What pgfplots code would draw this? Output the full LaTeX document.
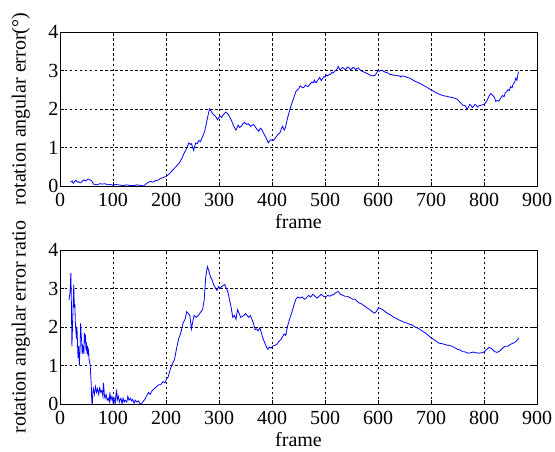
\documentclass[border=0pt]{standalone}
\usepackage{fontspec}
\setmainfont{Liberation Serif}
\usepackage{pgfplots}
\pgfplotsset{compat=1.18}
\pgfplotsset{
  matlab/.style={
    scale only axis, width=477pt, height=154pt,
    xmin=0, xmax=900, ymin=0, ymax=4,
    xtick={0,100,...,900}, ytick={0,1,2,3,4},
    grid=major,
    major grid style={black, line width=0.6pt, dash pattern=on 2.5pt off 2.5pt},
    axis line style={black, line width=0.8pt},
    tick align=inside, major tick length=4pt,
    tick style={black, line width=0.6pt},
    /pgf/number format/assume math mode=true,
    tick label style={font=\fontsize{20}{24}\selectfont},
    yticklabel style={inner sep=1.5pt},
    xticklabel style={inner sep=2pt, yshift=-5pt},
    label style={font=\fontsize{20}{24}\selectfont},
    xlabel style={at={(axis description cs:0.5,-0.273)}, anchor=base},
    ylabel style={at={(axis description cs:-0.072,0.5)}, anchor=base, rotate=0},
    xlabel={frame},
  }
}
\begin{document}
\begin{tikzpicture}
\useasboundingbox (0,0) rectangle (555pt,-452pt);
\begin{axis}[matlab, at={(60pt,-186pt)}, anchor=south west, ylabel={rotation angular error(°)}]
\addplot[blue, line width=0.8pt] coordinates {
(20,0.1) (23,0.13) (25,0.07) (28,0.12) (30,0.15) (33,0.1) (35,0.11) (38,0.08) (40,0.09) (43,0.14) (45,0.16) (48,0.13) (50,0.15) (53,0.18) (55,0.17) (58,0.15) (60,0.13) (63,0.05) (67,0.04) (70,0.03) (75,0.06) (80,0.05) (85,0.06) (90,0.03) (95,0.04) (100,0.02) (105,0.04) (110,0.03) (115,0.02) (120,0.01) (125,0.03) (130,0.02) (135,0.01) (140,0.01) (145,0.03) (150,0.02) (158,0.0) (162,0.05) (165,0.08) (170,0.12) (175,0.1) (180,0.14) (185,0.15) (190,0.2) (195,0.22) (200,0.25) (205,0.3) (210,0.37) (215,0.45) (220,0.52) (225,0.6) (230,0.72) (234,0.85) (238,0.95) (243,1.12) (246,1.08) (248,1.1) (252,0.93) (256,1.12) (259,1.1) (262,1.18) (265,1.15) (268,1.25) (273,1.42) (278,1.75) (282,2.0) (285,1.95) (287,1.9) (290,1.85) (292,1.83) (295,1.78) (297,1.72) (300,1.78) (302,1.82) (305,1.78) (308,1.85) (313,1.92) (316,1.88) (318,1.85) (323,1.72) (326,1.62) (328,1.55) (332,1.45) (336,1.58) (339,1.52) (342,1.55) (345,1.62) (348,1.65) (352,1.6) (355,1.62) (360,1.55) (365,1.6) (368,1.55) (370,1.5) (375,1.42) (378,1.5) (380,1.48) (385,1.35) (390,1.22) (393,1.12) (396,1.18) (398,1.2) (402,1.18) (405,1.22) (410,1.32) (415,1.38) (418,1.5) (420,1.55) (423,1.45) (425,1.5) (430,1.8) (435,2.05) (440,2.25) (445,2.45) (448,2.5) (450,2.52) (453,2.6) (455,2.58) (458,2.55) (460,2.56) (463,2.62) (465,2.6) (468,2.58) (470,2.62) (473,2.66) (475,2.7) (478,2.68) (480,2.75) (483,2.68) (485,2.72) (488,2.78) (490,2.82) (493,2.74) (495,2.78) (498,2.84) (500,2.83) (503,2.88) (505,2.86) (508,2.9) (510,2.9) (513,2.95) (515,2.93) (518,2.98) (520,3.0) (523,3.04) (525,3.1) (528,3.02) (530,3.04) (533,3.08) (535,3.06) (538,3.02) (540,3.05) (543,3.09) (545,3.08) (548,3.02) (550,3.04) (553,3.08) (555,3.07) (558,3.02) (560,3.05) (563,3.07) (565,3.03) (570,2.98) (575,2.95) (580,2.92) (585,2.88) (590,2.86) (595,2.88) (600,3.0) (603,2.98) (605,3.0) (608,3.01) (610,2.98) (615,2.95) (620,2.93) (623,2.89) (625,2.9) (628,2.88) (630,2.88) (635,2.87) (640,2.86) (643,2.83) (645,2.86) (650,2.85) (655,2.82) (660,2.8) (665,2.76) (670,2.72) (675,2.69) (680,2.66) (685,2.62) (690,2.58) (695,2.54) (700,2.5) (705,2.46) (710,2.42) (715,2.39) (720,2.36) (725,2.34) (730,2.33) (735,2.31) (740,2.3) (745,2.28) (750,2.25) (755,2.17) (760,2.1) (765,2.08) (768,2.0) (770,2.03) (773,2.12) (775,2.1) (778,2.04) (780,2.07) (783,2.12) (785,2.1) (788,2.05) (790,2.08) (795,2.1) (800,2.12) (805,2.2) (810,2.35) (813,2.4) (815,2.38) (818,2.33) (820,2.3) (822,2.2) (825,2.22) (828,2.2) (830,2.25) (835,2.35) (838,2.32) (840,2.42) (843,2.45) (845,2.5) (848,2.48) (850,2.58) (853,2.55) (855,2.65) (858,2.7) (860,2.8) (862,2.75) (865,2.97)
};
\end{axis}
\begin{axis}[matlab, at={(60pt,-404pt)}, anchor=south west, ylabel={rotation angular error ratio}]
\addplot[blue, line width=0.8pt] coordinates {
(17,2.7) (19,2.9) (20.5,3.4) (21.5,2.6) (22.5,1.5) (24,2.2) (26,3.1) (27,2.5) (28,2.6) (29,2.1) (31,1.7) (32,2.0) (34,1.2) (35,1.5) (36.5,1.0) (38,1.5) (39,2.1) (40,1.8) (41,1.6) (42,1.3) (43,1.5) (44,1.45) (45,1.3) (46,1.85) (47,1.6) (48,1.8) (49,1.4) (50,1.6) (51,1.3) (52,1.5) (53,1.25) (54,1.35) (55,1.15) (57,1.0) (59,0.5) (60,0.05) (61,0.0) (62,0.3) (63,0.4) (65,0.25) (67,0.45) (69,0.3) (71,0.4) (73,0.25) (75,0.42) (77,0.3) (79,0.35) (81,0.2) (82,0.55) (84,0.2) (85,0.15) (87,0.25) (89,0.1) (91,0.15) (93,0.05) (94,0.3) (96,0.1) (98,0.2) (100,0.05) (102,0.15) (104,0.0) (106,0.3) (107,0.35) (108,0.1) (110,0.2) (112,0.05) (113,0.1) (115,0.15) (117,0.0) (119,0.15) (121,0.05) (123,0.1) (126,0.05) (128,0.2) (130,0.1) (133,0.15) (135,0.08) (137,0.12) (140,0.02) (142,0.1) (145,0.05) (148,0.08) (150,0.02) (153,0.0) (156,0.05) (160,0.12) (163,0.2) (167,0.3) (170,0.25) (174,0.35) (178,0.4) (182,0.45) (186,0.5) (190,0.5) (194,0.58) (198,0.55) (201,0.65) (204,0.7) (208,0.9) (212,1.05) (216,1.15) (220,1.45) (224,1.7) (228,1.85) (232,2.1) (236,2.2) (239,2.4) (242,2.35) (245,2.3) (248,1.95) (250,2.1) (253,2.3) (257,2.25) (261,2.3) (265,2.38) (269,2.45) (272,2.7) (275,3.3) (278,3.57) (281,3.45) (284,3.3) (287,3.22) (290,3.1) (293,3.02) (296,2.95) (299,3.05) (302,3.0) (305,3.05) (308,3.08) (311,3.1) (314,3.0) (317,2.9) (320,2.7) (323,2.5) (326,2.25) (329,2.3) (332,2.2) (335,2.45) (338,2.35) (341,2.25) (344,2.28) (347,2.3) (350,2.35) (353,2.3) (356,2.25) (359,2.3) (362,2.2) (365,2.1) (368,1.93) (371,1.95) (374,1.9) (377,1.98) (380,1.85) (383,1.7) (386,1.6) (389,1.5) (392,1.42) (395,1.48) (398,1.45) (401,1.5) (405,1.52) (409,1.55) (413,1.62) (417,1.68) (420,1.75) (423,1.82) (426,1.78) (429,2.0) (433,2.2) (437,2.36) (441,2.55) (445,2.72) (449,2.78) (453,2.75) (457,2.78) (461,2.72) (465,2.76) (469,2.82) (473,2.78) (477,2.85) (481,2.8) (485,2.75) (489,2.8) (493,2.85) (497,2.8) (501,2.78) (505,2.82) (509,2.8) (513,2.83) (517,2.85) (521,2.9) (525,2.92) (529,2.85) (533,2.83) (537,2.8) (541,2.8) (545,2.78) (549,2.75) (553,2.72) (557,2.72) (561,2.66) (565,2.62) (569,2.6) (573,2.56) (577,2.52) (581,2.48) (585,2.45) (589,2.4) (593,2.36) (597,2.4) (601,2.5) (605,2.48) (610,2.44) (615,2.38) (620,2.34) (625,2.3) (630,2.25) (635,2.22) (640,2.18) (645,2.15) (650,2.12) (655,2.1) (660,2.07) (665,2.05) (670,2.0) (675,1.97) (680,1.93) (685,1.88) (690,1.84) (695,1.78) (700,1.72) (705,1.68) (710,1.63) (715,1.58) (720,1.57) (725,1.55) (730,1.53) (735,1.52) (740,1.5) (745,1.46) (750,1.42) (755,1.4) (760,1.36) (765,1.35) (770,1.32) (775,1.33) (780,1.35) (785,1.33) (790,1.32) (795,1.33) (800,1.35) (805,1.42) (810,1.47) (815,1.43) (820,1.36) (825,1.34) (830,1.38) (835,1.45) (840,1.5) (845,1.5) (850,1.55) (855,1.58) (860,1.62) (866,1.72)
};
\end{axis}
\end{tikzpicture}
\end{document}
